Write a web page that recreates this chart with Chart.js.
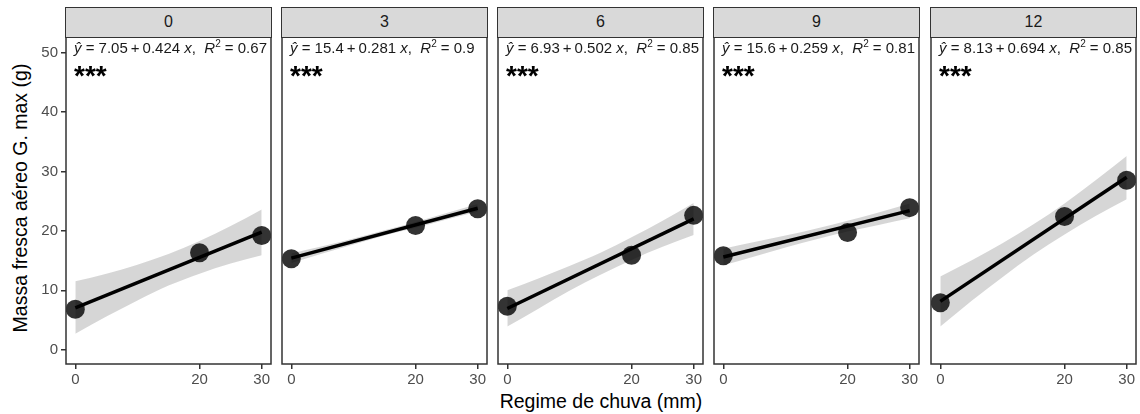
<!DOCTYPE html>
<html lang="pt">
<head>
  <meta charset="UTF-8">
  <title>Massa fresca aéreo G. max</title>
  <script src="https://cdn.jsdelivr.net/npm/chart.js"></script>
  <style>
    body { margin: 0; background: #fff; font-family: 'Liberation Sans', Arial, sans-serif; }
    #wrap { position: relative; width: 1140px; height: 414px; overflow: hidden; }
    .panel { position: absolute; top: 37px; line-height: 0; }
    .strip {
      position: absolute; top: 7px; height: 31px; box-sizing: border-box;
      border: 1.5px solid #333; background: #d9d9d9; color: #1a1a1a;
      font-size: 16px; text-align: center; line-height: 28px;
    }
    .eq { position: absolute; top: 39px; font-size: 15px; color: #1a1a1a; white-space: nowrap; }
    .eq sup { font-size: 10px; vertical-align: 6px; line-height: 0; }
    .stars { position: absolute; top: 60px; font-size: 28px; font-weight: bold; color: #000; }
    .ytitle {
      position: absolute; left: 20px; top: 198px; white-space: nowrap;
      transform: translate(-50%, -50%) rotate(-90deg); font-size: 19.5px; color: #000;
    }
    .xtitle {
      position: absolute; left: 601px; top: 401px; white-space: nowrap;
      transform: translate(-50%, -50%); font-size: 19.5px; color: #000;
    }
  </style>
</head>
<body>
  <div id="wrap">
    <div class="ytitle">Massa fresca aéreo G. max (g)</div>
    <div class="xtitle">Regime de chuva (mm)</div>
  </div>

  <script>
    // facet labels and axis ticks
    const facetLabels = ['0', '3', '6', '9', '12'];
    const xTicks = [0, 20, 30];
    const yTicks = [0, 10, 20, 30, 40, 50];

    // observed means (x = rain regime)
    const rainX = [0, 20, 30];
    const mass0 = [6.8, 16.3, 19.2];
    const mass3 = [15.3, 20.9, 23.7];
    const mass6 = [7.3, 15.9, 22.6];
    const mass9 = [15.8, 19.7, 23.9];
    const mass12 = [7.9, 22.4, 28.5];

    // fitted line ends
    const fitX = [0, 30];
    const fit0 = [7.05, 19.8];
    const fit3 = [15.4, 23.8];
    const fit6 = [6.93, 22.0];
    const fit9 = [15.6, 23.4];
    const fit12 = [8.13, 29.0];

    // confidence band
    const bandX = [0, 5, 10, 15, 20, 25, 30];
    const upper0 = [11.5, 12.8, 14.3, 16.1, 18.3, 20.8, 23.6];
    const lower0 = [2.7, 5.6, 8.3, 10.8, 12.8, 14.5, 15.9];
    const upper3 = [16.2, 17.4, 18.7, 20.1, 21.5, 23.0, 24.5];
    const lower3 = [14.6, 16.2, 17.7, 19.2, 20.5, 21.9, 23.2];
    const upper6 = [10.0, 12.0, 14.1, 16.3, 18.9, 21.7, 24.7];
    const lower6 = [3.9, 6.9, 9.9, 12.6, 15.1, 17.3, 19.3];
    const upper9 = [17.0, 18.1, 19.2, 20.4, 21.7, 23.1, 24.6];
    const lower9 = [14.2, 15.7, 17.2, 18.6, 19.9, 21.0, 22.1];
    const upper12 = [12.3, 15.0, 17.9, 21.1, 24.6, 28.5, 32.6];
    const lower12 = [3.9, 8.2, 12.2, 16.0, 19.4, 22.5, 25.3];

    // equation labels
    const intercepts = ['7.05', '15.4', '6.93', '15.6', '8.13'];
    const slopes = ['0.424', '0.281', '0.502', '0.259', '0.694'];
    const r2s = ['0.67', '0.9', '0.85', '0.81', '0.85'];

    const masses = [mass0, mass3, mass6, mass9, mass12];
    const fits = [fit0, fit3, fit6, fit9, fit12];
    const uppers = [upper0, upper3, upper6, upper9, upper12];
    const lowers = [lower0, lower3, lower6, lower9, lower12];

    const panelLeft = [66, 282, 498, 714, 931];
    const panelW = 205;
    const yAxisW = 36;
    const pad = 2;
    const font = "'Liberation Sans', Arial, sans-serif";
    const wrap = document.getElementById('wrap');

    const toXY = (xs, ys) => xs.map((x, i) => ({ x: x, y: ys[i] }));
    const noPad = s => { s.paddingLeft = 0; s.paddingRight = 0; s.paddingTop = 0; s.paddingBottom = 0; };

    const panelBorder = {
      id: 'panelBorder',
      afterDraw(chart) {
        const a = chart.chartArea;
        const ctx = chart.ctx;
        ctx.save();
        ctx.strokeStyle = '#333';
        ctx.lineWidth = 1.5;
        ctx.strokeRect(a.left, a.top, a.right - a.left, a.bottom - a.top);
        ctx.restore();
      }
    };

    facetLabels.forEach((lab, i) => {
      const first = i === 0;
      const left = first ? panelLeft[i] - yAxisW : panelLeft[i] - pad;
      const width = first ? panelW + yAxisW + pad : panelW + 2 * pad;

      const box = document.createElement('div');
      box.className = 'panel';
      box.style.left = left + 'px';
      const canvas = document.createElement('canvas');
      canvas.width = width;
      canvas.height = 357;
      box.appendChild(canvas);
      wrap.appendChild(box);

      const strip = document.createElement('div');
      strip.className = 'strip';
      strip.style.left = (panelLeft[i] - 0.75) + 'px';
      strip.style.width = (panelW + 1.5) + 'px';
      strip.textContent = lab;
      wrap.appendChild(strip);

      const eq = document.createElement('div');
      eq.className = 'eq';
      eq.style.left = (panelLeft[i] + 8) + 'px';
      eq.innerHTML = '<i>ŷ</i> = ' + intercepts[i] + '&thinsp;+&thinsp;' + slopes[i] +
        ' <i>x</i>,&nbsp; <i>R</i><sup>2</sup> = ' + r2s[i];
      wrap.appendChild(eq);

      const stars = document.createElement('div');
      stars.className = 'stars';
      stars.style.left = (panelLeft[i] + 8) + 'px';
      stars.textContent = '***';
      wrap.appendChild(stars);

      new Chart(canvas.getContext('2d'), {
        type: 'scatter',
        data: {
          datasets: [
            {
              type: 'line', data: toXY(fitX, fits[i]), borderColor: '#000',
              borderWidth: 3.5, pointRadius: 0, order: 0
            },
            {
              type: 'scatter', data: toXY(rainX, masses[i]),
              backgroundColor: 'rgba(0,0,0,0.8)', borderWidth: 0, pointRadius: 9.5, order: 1
            },
            {
              type: 'line', data: toXY(bandX, uppers[i]), borderWidth: 0, pointRadius: 0,
              cubicInterpolationMode: 'monotone', fill: '+1',
              backgroundColor: 'rgba(153,153,153,0.4)', order: 2
            },
            {
              type: 'line', data: toXY(bandX, lowers[i]), borderWidth: 0, pointRadius: 0,
              cubicInterpolationMode: 'monotone', fill: false, order: 3
            }
          ]
        },
        options: {
          responsive: false,
          animation: false,
          layout: { autoPadding: false, padding: { left: first ? 0 : pad, right: pad, top: 0, bottom: 0 } },
          plugins: { legend: { display: false }, tooltip: { enabled: false } },
          scales: {
            x: {
              type: 'linear', min: -1.5, max: 31.5,
              afterBuildTicks: s => { s.ticks = xTicks.map(v => ({ value: v })); },
              afterFit: s => { s.height = 30; noPad(s); },
              ticks: { color: '#4d4d4d', font: { size: 15, family: font }, padding: 2, maxRotation: 0, autoSkip: false },
              grid: { drawOnChartArea: false, drawTicks: true, tickLength: 5, color: '#333', lineWidth: 1.5 },
              border: { display: false }
            },
            y: {
              type: 'linear', min: -2.4, max: 52.6, display: first,
              afterBuildTicks: s => { s.ticks = yTicks.map(v => ({ value: v })); },
              afterFit: s => { s.width = first ? yAxisW : 0; noPad(s); },
              ticks: { color: '#4d4d4d', font: { size: 15, family: font }, padding: 3 },
              grid: { drawOnChartArea: false, drawTicks: true, tickLength: 5, color: '#333', lineWidth: 1.5 },
              border: { display: false }
            }
          }
        },
        plugins: [panelBorder]
      });
    });
  </script>
</body>
</html>
